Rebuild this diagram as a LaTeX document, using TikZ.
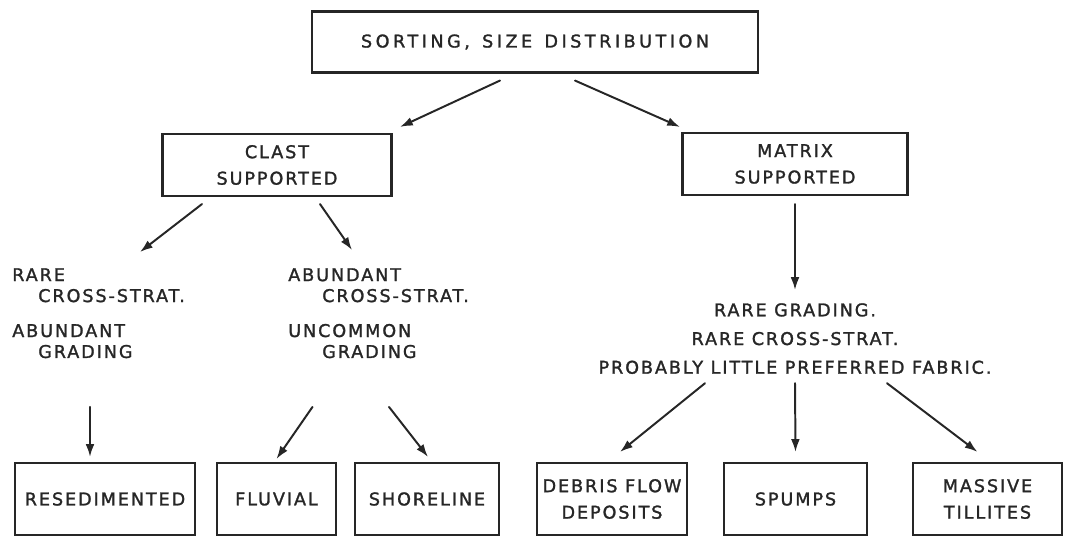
\documentclass[tikz,border=0pt]{standalone}
\usepackage{fontspec}
\setmainfont{DejaVu Sans}[LetterSpace=11,FakeBold=1.5]
\usetikzlibrary{arrows.meta}

\begin{document}
\begin{tikzpicture}[x=0.025cm,y=-0.025cm,line cap=round,
  font=\fontsize{12.5}{14.9}\selectfont,
  box/.style={draw=black!85,line width=1.5pt,align=center,inner sep=0pt,
    minimum height=1.8cm,text=black!85,font=\fontsize{12.5}{18.8}\selectfont},
  arr/.style={-{Latex[length=3.2mm,width=2.2mm]},line width=1.4pt,draw=black!85},
  note/.style={inner sep=0pt,text=black!85}]
  \useasboundingbox (0,0) rectangle (1072,536);

  % upper boxes
  \node[box,minimum width=11.15cm,minimum height=1.525cm] (top) at (535,42)
    {\addfontfeature{LetterSpace=20}SORTING,\hspace{0.08cm} SIZE\hspace{0.08cm} DISTRIBUTION};
  \node[box,minimum width=5.725cm,minimum height=1.55cm] (clast) at (277,165) {CLAST\\SUPPORTED};
  \node[box,minimum width=5.625cm,minimum height=1.55cm] (matrix) at (795,164) {MATRIX\\SUPPORTED};

  % characteristics
  \node[note,anchor=north west,align=left] (rare) at (12,268)
    {RARE\\\hspace*{0.65cm}CROSS-STRAT.\\[0.35cm]ABUNDANT\\\hspace*{0.65cm}GRADING};
  \node[note,anchor=north west,align=left] (abund) at (288,268)
    {ABUNDANT\\\hspace*{0.85cm}CROSS-STRAT.\\[0.35cm]UNCOMMON\\\hspace*{0.85cm}GRADING};
  \node[note,anchor=north,align=center,font=\fontsize{12.5}{20.4}\selectfont] (mtext) at (795,303)
    {RARE GRADING.\\RARE CROSS-STRAT.\\PROBABLY LITTLE PREFERRED FABRIC.};

  % facies boxes
  \node[box,minimum width=4.5cm] (resed) at (105,499) {RESEDIMENTED};
  \node[box,minimum width=2.975cm] (fluvial) at (276.5,499) {FLUVIAL};
  \node[box,minimum width=3.6cm] (shore) at (427,499) {SHORELINE};
  \node[box,minimum width=3.75cm] (debris) at (612,499) {DEBRIS FLOW\\DEPOSITS};
  \node[box,minimum width=3.575cm] (spumps) at (795.5,499) {SPUMPS};
  \node[box,minimum width=3.725cm] (tillite) at (987.5,499) {MASSIVE\\TILLITES};

  % arrows
  \draw[arr] ([shift={(-35,7)}]top.south) -- ([shift={(123,-6)}]clast.north);
  \draw[arr] ([shift={(40,7)}]top.south) -- ([shift={(-115,-5)}]matrix.north);
  \draw[arr] ([shift={(-75,7)}]clast.south) -- ([shift={(128,-16)}]rare.north west);
  \draw[arr] ([shift={(43,7)}]clast.south) -- ([shift={(64,-18)}]abund.north west);
  \draw[arr] ([shift={(0,8)}]matrix.south) -- ([shift={(0,-13)}]mtext.north);
  \draw[arr] ([shift={(-15,-55)}]resed.north) -- ([shift={(-15,-5)}]resed.north);
  \draw[arr] ([shift={(36,-55)}]fluvial.north) -- ([shift={(0,-3)}]fluvial.north);
  \draw[arr] ([shift={(-38,-55)}]shore.north) -- ([shift={(1,-5)}]shore.north);
  \draw[arr] ([shift={(-90,9)}]mtext.south) -- ([shift={(8,-10)}]debris.north);
  \draw[arr] ([shift={(0,9)}]mtext.south) -- ([shift={(0,-10)}]spumps.north);
  \draw[arr] ([shift={(92,9)}]mtext.south) -- ([shift={(-10,-10)}]tillite.north);
\end{tikzpicture}
\end{document}
